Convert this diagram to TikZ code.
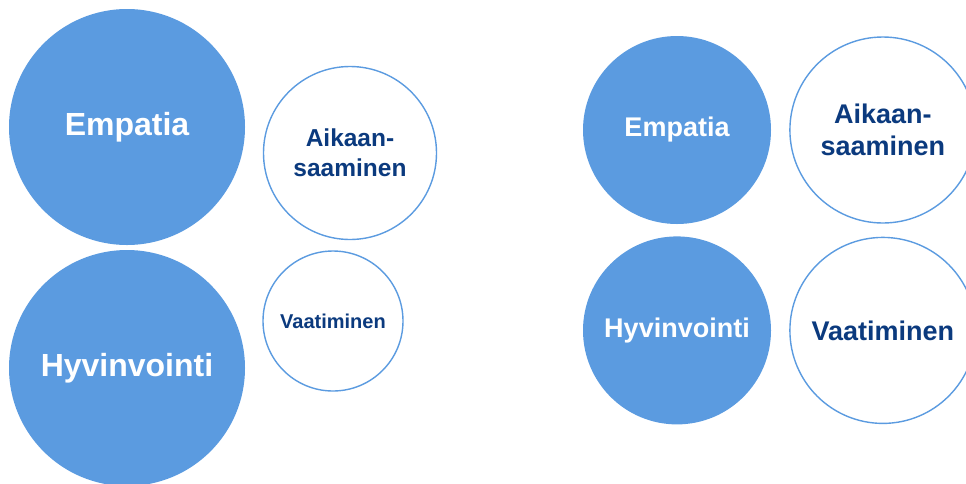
\documentclass[tikz,border=0pt]{standalone}
\usepackage{fontspec}
\setmainfont{Liberation Sans}
\usetikzlibrary{positioning}
\definecolor{circblue}{HTML}{5B9BE0}
\definecolor{txtblue}{HTML}{0B3A7E}

\begin{document}
\begin{tikzpicture}[
    x=1pt, y=-1pt,
    filled/.style={circle, fill=circblue, draw=none, inner sep=0pt, text=white, font=\bfseries, align=center},
    ring/.style={circle, fill=white, draw=circblue, line width=1.4pt, inner sep=0pt, text=txtblue, font=\bfseries, align=center}
  ]
  \useasboundingbox (0,0) rectangle (966,483);

  % left group
  \node[filled, minimum size=236pt, font=\fontsize{32}{38}\selectfont\bfseries] (empL) at (127,127) {Empatia};
  \node[filled, minimum size=236pt, font=\fontsize{32}{38}\selectfont\bfseries] (hyvL) at (127,368) {Hyvinvointi};
  \node[ring, minimum size=173pt, font=\fontsize{24.5}{30}\selectfont\bfseries] (aikL) at (350,153) {Aikaan-\\saaminen};
  \node[ring, minimum size=140pt, font=\fontsize{20}{24}\selectfont\bfseries] (vaaL) at (333,321) {Vaatiminen};

  % right group
  \node[filled, minimum size=188pt, font=\fontsize{27}{32}\selectfont\bfseries] (empR) at (677,130) {Empatia};
  \node[filled, minimum size=188pt, font=\fontsize{27}{32}\selectfont\bfseries, below=12pt of empR] (hyvR) {Hyvinvointi};
  \node[ring, minimum size=186pt, font=\fontsize{27}{32}\selectfont\bfseries, right=18pt of empR] (aikR) {Aikaan-\\saaminen};
  \node[ring, minimum size=186pt, font=\fontsize{27}{32}\selectfont\bfseries, right=18pt of hyvR] (vaaR) {Vaatiminen};
\end{tikzpicture}
\end{document}
